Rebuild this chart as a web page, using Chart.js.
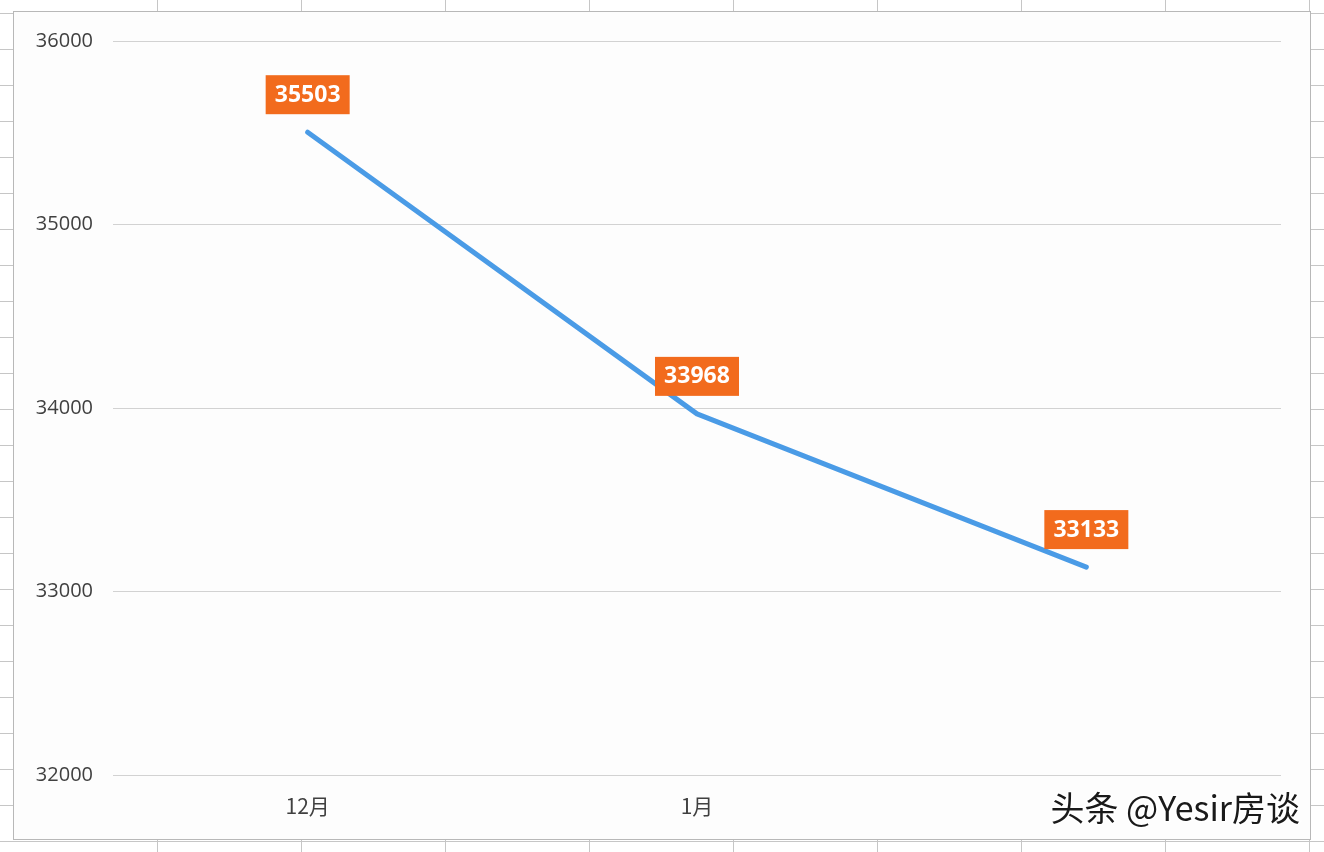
<!DOCTYPE html>
<html>
<head>
<meta charset="utf-8">
<script src="https://cdn.jsdelivr.net/npm/chart.js@4/dist/chart.umd.min.js"></script>
<style>
  html, body { margin: 0; padding: 0; background: #fff; }
  #wrap { width: 1324px; height: 852px; }
</style>
</head>
<body>
<div id="wrap"><canvas id="lineChart" width="1324" height="852"></canvas></div>
<script>
// 数据
const months = ['12月', '1月', '2月'];
const prices = [35503, 33968, 33133];
const yTicks = [32000, 33000, 34000, 35000, 36000];

// 背景：表格网格 + 图表框
const sheetBackground = {
    id: 'sheetBackground',
    beforeDraw(chart) {
        const ctx = chart.ctx;
        const w = chart.width, h = chart.height;
        ctx.save();
        ctx.fillStyle = '#ffffff';
        ctx.fillRect(0, 0, w, h);
        ctx.strokeStyle = '#c6c6c6';
        ctx.lineWidth = 1;
        for (let x = 157; x < w; x += 144) {
            ctx.beginPath();
            ctx.moveTo(x + 0.5, 0);
            ctx.lineTo(x + 0.5, h);
            ctx.stroke();
        }
        for (let y = 13; y < h; y += 36) {
            ctx.beginPath();
            ctx.moveTo(0, y + 0.5);
            ctx.lineTo(w, y + 0.5);
            ctx.stroke();
        }
        // 图表区域
        ctx.fillStyle = '#fdfdfd';
        ctx.fillRect(13, 11, 1297, 828);
        ctx.strokeStyle = '#b8b8b8';
        ctx.strokeRect(13.5, 11.5, 1297, 828);
        ctx.restore();
    }
};

// 橙色数据标签
const valueLabels = {
    id: 'valueLabels',
    afterDatasetsDraw(chart) {
        const ctx = chart.ctx;
        const meta = chart.getDatasetMeta(0);
        ctx.save();
        ctx.font = 'bold 23px "Open Sans", sans-serif';
        ctx.textAlign = 'center';
        ctx.textBaseline = 'middle';
        meta.data.forEach((pt, i) => {
            const cx = pt.x, cy = pt.y - 38;
            ctx.fillStyle = '#f26b1d';
            ctx.fillRect(cx - 42, cy - 19, 84, 39);
            ctx.fillStyle = '#ffffff';
            ctx.fillText(String(prices[i]), cx, cy + 1);
        });
        ctx.restore();
    }
};

// 水印
const watermark = {
    id: 'watermark',
    afterDraw(chart) {
        const ctx = chart.ctx;
        ctx.save();
        ctx.fillStyle = '#fdfdfd';
        ctx.fillRect(1030, 788, 276, 42);
        ctx.font = '34px "Noto Sans CJK SC", sans-serif';
        ctx.textAlign = 'right';
        ctx.textBaseline = 'middle';
        ctx.lineWidth = 3;
        ctx.strokeStyle = '#ffffff';
        ctx.strokeText('头条 @Yesir房谈', 1300, 808);
        ctx.fillStyle = '#1a1a1a';
        ctx.fillText('头条 @Yesir房谈', 1300, 808);
        ctx.restore();
    }
};

new Chart(document.getElementById('lineChart'), {
    type: 'line',
    data: {
        labels: months,
        datasets: [{
            data: prices,
            borderColor: '#4a9be6',
            borderWidth: 5,
            borderCapStyle: 'round',
            borderJoinStyle: 'round',
            pointRadius: 0,
            tension: 0
        }]
    },
    options: {
        responsive: false,
        animation: false,
        layout: { padding: { left: 0, top: 41, right: 43, bottom: 0 } },
        plugins: {
            legend: { display: false },
            tooltip: { enabled: false }
        },
        scales: {
            x: {
                offset: true,
                grid: { display: false, drawTicks: false },
                border: { display: false },
                ticks: {
                    padding: 18,
                    color: '#404040',
                    font: { size: 21, family: '"Noto Sans CJK SC", "Open Sans", sans-serif' }
                },
                afterFit(scale) { scale.height = 77; }
            },
            y: {
                min: 32000,
                max: 36000,
                afterBuildTicks(scale) { scale.ticks = yTicks.map(v => ({ value: v })); },
                grid: { color: '#d2d2d2', drawTicks: false },
                border: { display: false },
                ticks: {
                    padding: 20,
                    color: '#404040',
                    font: { size: 20, family: '"Open Sans", sans-serif' },
                    callback: v => String(v)
                },
                afterFit(scale) { scale.width = 113; }
            }
        }
    },
    plugins: [sheetBackground, valueLabels, watermark]
});
</script>
</body>
</html>
